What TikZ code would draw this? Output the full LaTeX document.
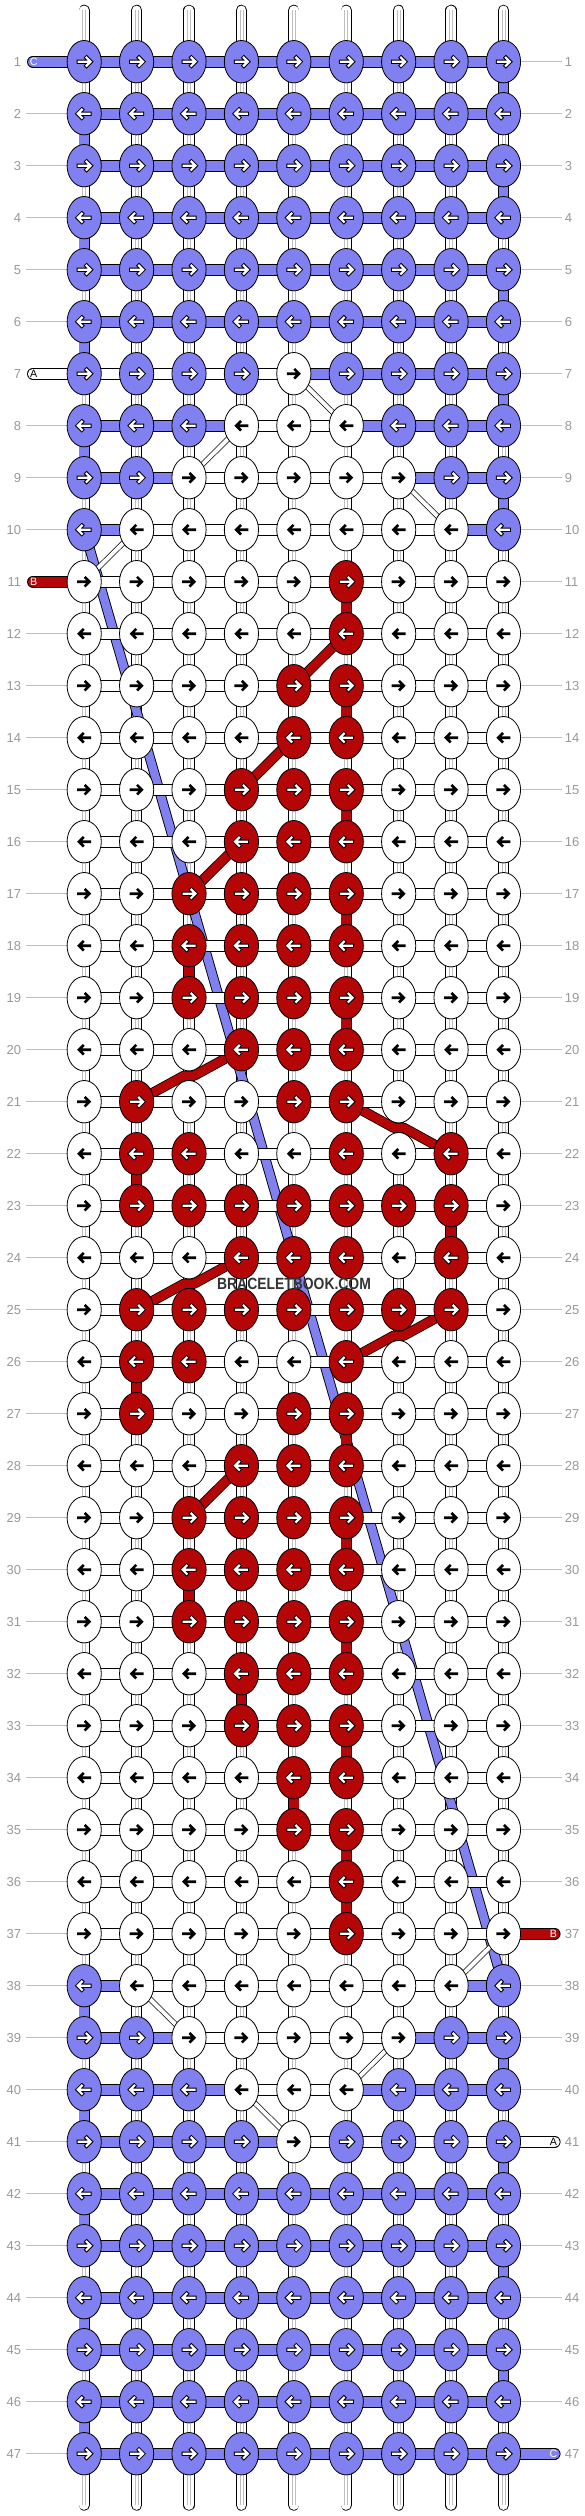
\documentclass[tikz,border=0pt]{standalone}
\usepackage{fontspec}
\setmainfont{Liberation Sans}
\usetikzlibrary{shapes.geometric,calc}
\definecolor{cblue}{RGB}{128,128,240}
\definecolor{cred}{RGB}{180,6,6}
\definecolor{lblgrey}{RGB}{153,153,153}
\definecolor{linegrey}{RGB}{190,190,190}
\definecolor{wmgrey}{RGB}{51,51,51}
\pgfdeclarelayer{strings}
\pgfdeclarelayer{diag}
\pgfdeclarelayer{seg}
\pgfsetlayers{strings,diag,seg,main}
\tikzset{
  knot/.style={ellipse, draw=black, line width=0.8pt, minimum width=34.2pt, minimum height=42.4pt, inner sep=0pt},
  hseg/.style={draw=black, line width=0.8pt, double distance=10.1pt},
  vseg/.style={draw=black, line width=0.8pt, double distance=9.6pt},
  basestr/.style={draw=black, line width=0.8pt, double=white, double distance=9.6pt, line cap=round},
  innerln/.style={draw=linegrey, line width=0.6pt},
  bdiag/.style={draw=black, line width=0.9pt, double=cblue, double distance=8.4pt},
  rdiag/.style={draw=black, line width=0.8pt, double=cred, double distance=8.6pt, line join=round},
  adiag/.style={draw=black, line width=0.7pt, double=white, double distance=4pt},
  tailstr/.style={draw=black, line width=0.8pt, double distance=10.1pt, line cap=round},
  taillbl/.style={font=\fontsize{10.7}{10.7}\selectfont, inner sep=0pt},
  rowline/.style={draw=linegrey, line width=0.9pt},
  rowlbl/.style={font=\fontsize{13}{13}\selectfont, text=lblgrey, inner sep=0pt},
  pics/warr/.style={code={
    \draw[black, line width=4.2pt, line cap=rect, line join=miter] (-5.4,0) -- (4.5,0) (2.4,-4) -- (6.4,0) -- (2.4,4);
    \draw[white, line width=2.2pt, line cap=rect, line join=miter] (-5.4,0) -- (4.5,0) (2.4,-4) -- (6.4,0) -- (2.4,4);
  }},
  pics/barr/.style={code={
    \draw[black, line width=2.6pt, line join=miter] (-7,0) -- (4.5,0) (0.4,-4.8) -- (5.2,0) -- (0.4,4.8);
  }},
}
\begin{document}
\begin{tikzpicture}[x=1pt,y=-1pt]
\useasboundingbox (0,0) rectangle (584,2516);

% knots
\foreach \r/\row in {
1/{C,C,C,C,C,C,C,C,C},
2/{C,C,C,C,C,C,C,C,C},
3/{C,C,C,C,C,C,C,C,C},
4/{C,C,C,C,C,C,C,C,C},
5/{C,C,C,C,C,C,C,C,C},
6/{C,C,C,C,C,C,C,C,C},
7/{C,C,C,C,W,C,C,C,C},
8/{C,C,C,W,W,W,C,C,C},
9/{C,C,W,W,W,W,W,C,C},
10/{C,W,W,W,W,W,W,W,C},
11/{W,W,W,W,W,R,W,W,W},
12/{W,W,W,W,W,R,W,W,W},
13/{W,W,W,W,R,R,W,W,W},
14/{W,W,W,W,R,R,W,W,W},
15/{W,W,W,R,R,R,W,W,W},
16/{W,W,W,R,R,R,W,W,W},
17/{W,W,R,R,R,R,W,W,W},
18/{W,W,R,R,R,R,W,W,W},
19/{W,W,R,R,R,R,W,W,W},
20/{W,W,W,R,R,R,W,W,W},
21/{W,R,W,W,R,R,W,W,W},
22/{W,R,R,W,W,R,W,R,W},
23/{W,R,R,R,R,R,R,R,W},
24/{W,W,W,R,R,R,W,R,W},
25/{W,R,R,R,R,R,R,R,W},
26/{W,R,R,W,W,R,W,W,W},
27/{W,R,W,W,R,R,W,W,W},
28/{W,W,W,R,R,R,W,W,W},
29/{W,W,R,R,R,R,W,W,W},
30/{W,W,R,R,R,R,W,W,W},
31/{W,W,R,R,R,R,W,W,W},
32/{W,W,W,R,R,R,W,W,W},
33/{W,W,W,R,R,R,W,W,W},
34/{W,W,W,W,R,R,W,W,W},
35/{W,W,W,W,R,R,W,W,W},
36/{W,W,W,W,W,R,W,W,W},
37/{W,W,W,W,W,R,W,W,W},
38/{C,W,W,W,W,W,W,W,C},
39/{C,C,W,W,W,W,W,C,C},
40/{C,C,C,W,W,W,C,C,C},
41/{C,C,C,C,W,C,C,C,C},
42/{C,C,C,C,C,C,C,C,C},
43/{C,C,C,C,C,C,C,C,C},
44/{C,C,C,C,C,C,C,C,C},
45/{C,C,C,C,C,C,C,C,C},
46/{C,C,C,C,C,C,C,C,C},
47/{C,C,C,C,C,C,C,C,C}}{
  \pgfmathtruncatemacro\dir{mod(\r,2)==1 ? 1 : -1}
  \foreach \k [count=\c] in \row {
    \if W\k \def\kf{white}\else\if C\k \def\kf{cblue}\else\def\kf{cred}\fi\fi
    \node[knot, fill=\kf] (k-\r-\c) at ({84.2+(\c-1)*52.41},{61.7+(\r-1)*52}) {};
    \if W\k
      \pic[xscale=\dir] at (k-\r-\c.center) {barr};
    \else
      \pic[xscale=\dir] at (k-\r-\c.center) {warr};
    \fi
  }
}

% row labels
\foreach \r in {1,...,47}{
  \node[rowlbl, anchor=east] (ln-\r) at (21.2,{61.7+(\r-1)*52}) {\r};
  \node[rowlbl, anchor=west] (rn-\r) at (564.6,{61.7+(\r-1)*52}) {\r};
}

% background and vertical base strings
\begin{pgfonlayer}{strings}
\fill[white] (0,0) rectangle (584,2516);
\foreach \c in {1,...,9}{
  \coordinate (top-\c) at ({84.2+(\c-1)*52.41},10.3);
  \coordinate (bot-\c) at ({84.2+(\c-1)*52.41},2505.1);
  \draw[basestr] (top-\c) -- (bot-\c);
  \draw[innerln] ([xshift=-1.5pt]top-\c) -- ([xshift=-1.5pt]bot-\c);
  \draw[innerln] ([xshift=1.5pt]top-\c) -- ([xshift=1.5pt]bot-\c);
}
\end{pgfonlayer}

% diagonal carried strings
\begin{pgfonlayer}{diag}
  \draw[bdiag] (k-10-1.center) -- (k-38-9.center);
  \foreach \ra/\ca/\rb/\cb in {7/5/8/6, 8/4/9/3, 9/7/10/8, 10/2/11/1, 37/9/38/8, 38/2/39/3, 39/7/40/6, 40/4/41/5}
    \draw[adiag] (k-\ra-\ca.center) -- (k-\rb-\cb.center);
  \foreach \ra/\ca/\rb/\cb in {12/6/13/5, 14/5/15/4, 16/4/17/3, 28/4/29/3}
    \draw[rdiag] (k-\ra-\ca.center) -- (k-\rb-\cb.center);
  \coordinate (bend-1) at ($(k-20-3.center)!0.5!(k-21-3.center)$);
  \coordinate (bend-2) at ($(k-21-7.center)!0.5!(k-22-7.center)$);
  \coordinate (bend-3) at ($(k-24-3.center)!0.5!(k-25-3.center)$);
  \coordinate (bend-4) at ($(k-25-7.center)!0.5!(k-26-7.center)$);
  \draw[rdiag] (k-20-4.center) -- ([xshift=5pt]bend-1) -- ([xshift=-5pt]bend-1) -- (k-21-2.center);
  \draw[rdiag] (k-21-6.center) -- ([xshift=-5pt]bend-2) -- ([xshift=5pt]bend-2) -- (k-22-8.center);
  \draw[rdiag] (k-24-4.center) -- ([xshift=5pt]bend-3) -- ([xshift=-5pt]bend-3) -- (k-25-2.center);
  \draw[rdiag] (k-25-8.center) -- ([xshift=5pt]bend-4) -- ([xshift=-5pt]bend-4) -- (k-26-6.center);
\end{pgfonlayer}

\begin{pgfonlayer}{seg}
  % horizontal segments
  \foreach \r in {1,...,47}{
    \foreach \c [evaluate=\c as \n using int(\c+1)] in {1,...,8}
      \draw[hseg, double=white] (k-\r-\c.center) -- (k-\r-\n.center);
  }
  \foreach \r in {1,2,3,4,5,6,42,43,44,45,46,47}{
    \foreach \c [evaluate=\c as \n using int(\c+1)] in {1,...,8}
      \draw[hseg, double=cblue] (k-\r-\c.center) -- (k-\r-\n.center);
  }
  \foreach \r/\c in {7/5,7/6,7/7,7/8, 8/1,8/2,8/3,8/6,8/7,8/8, 9/1,9/2,9/7,9/8, 10/1,10/8,
                     38/1,38/8, 39/1,39/2,39/7,39/8, 40/1,40/2,40/3,40/6,40/7,40/8, 41/1,41/2,41/3,41/4}{
    \pgfmathtruncatemacro\n{\c+1}
    \draw[hseg, double=cblue] (k-\r-\c.center) -- (k-\r-\n.center);
  }
  % vertical coloured segments (c/r : between row r and r+1)
  \foreach \c/\r in {9/1,9/3,9/5,9/7,9/9,9/39,9/41,9/43,9/45, 1/2,1/4,1/6,1/8,1/38,1/40,1/42,1/44,1/46}{
    \pgfmathtruncatemacro\n{\r+1}
    \draw[vseg, double=cblue] (k-\r-\c.center) -- (k-\n-\c.center);
  }
  \foreach \c/\r in {6/11,6/13,6/15,6/17,6/19,6/27,6/29,6/31,6/33,6/35,6/36, 3/18,3/30, 2/22,2/26, 8/23, 4/32, 5/34}{
    \pgfmathtruncatemacro\n{\r+1}
    \draw[vseg, double=cred] (k-\r-\c.center) -- (k-\n-\c.center);
  }
  % label lines
  \foreach \r in {1,...,47}{
    \ifnum\r=1 \else\ifnum\r=7 \else\ifnum\r=11 \else
      \coordinate (lg-\r) at (26.2,{61.7+(\r-1)*52});
      \draw[rowline] (lg-\r) -- (k-\r-1.center);
    \fi\fi\fi
    \ifnum\r=37 \else\ifnum\r=41 \else\ifnum\r=47 \else
      \coordinate (rg-\r) at (561.6,{61.7+(\r-1)*52});
      \draw[rowline] (k-\r-9.center) -- (rg-\r);
    \fi\fi\fi
  }
  % tails
  \coordinate (tl-1) at (32.9,61.7);
  \coordinate (tl-7) at (32.9,373.7);
  \coordinate (tl-11) at (32.9,581.7);
  \coordinate (tr-37) at (554.7,1933.7);
  \coordinate (tr-41) at (554.7,2141.7);
  \coordinate (tr-47) at (554.7,2453.7);
  \draw[tailstr, double=cblue] (tl-1) -- (k-1-1.center);
  \draw[tailstr, double=white] (tl-7) -- (k-7-1.center);
  \draw[tailstr, double=cred] (tl-11) -- (k-11-1.center);
  \draw[tailstr, double=cred] (k-37-9.center) -- (tr-37);
  \draw[tailstr, double=white] (k-41-9.center) -- (tr-41);
  \draw[tailstr, double=cblue] (k-47-9.center) -- (tr-47);
\end{pgfonlayer}

% tail letters
\node[taillbl, text=white] (tlc) at (33.7,61.7) {C};
\node[taillbl, text=black] (tla) at (33.7,373.7) {A};
\node[taillbl, text=white] (tlb) at (33.7,581.7) {B};
\node[taillbl, text=white] (trb) at (553.4,1933.7) {B};
\node[taillbl, text=black] (tra) at (553.4,2141.7) {A};
\node[taillbl, text=white] (trc) at (553.4,2453.7) {C};

% watermark
\node[font=\fontsize{13.9}{13.9}\selectfont\bfseries, text=wmgrey, inner sep=0pt] (wm) at (294,1284.2) {\scalebox{1}[1.17]{BRACELETBOOK.COM}};
\end{tikzpicture}
\end{document}
